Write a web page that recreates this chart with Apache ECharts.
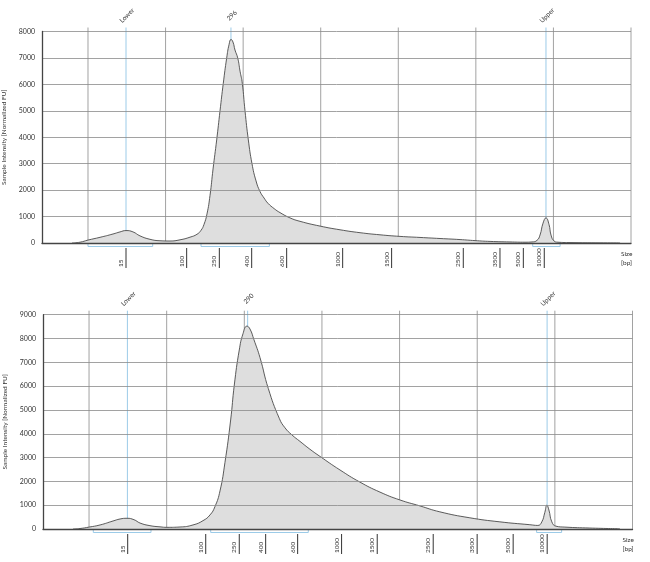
<!DOCTYPE html>
<html><head><meta charset="utf-8">
<script src="https://cdn.jsdelivr.net/npm/echarts@6/dist/echarts.min.js"></script>
<style>html,body{margin:0;padding:0;background:#fff}#c{width:650px;height:562px}</style>
</head><body><div id="c"></div>
<script>
// ---- Data (x = migration position units, y = normalized FU) ----
const topX = [7.94,8.97,10.00,11.55,13.22,14.13,14.90,15.80,16.70,17.99,19.28,20.57,21.86,23.15,24.05,24.57,24.95,25.34,25.73,26.12,26.59,27.02,27.44,27.88,28.18,28.44,28.69,28.95,29.30,29.60,29.89,30.24,30.67,31.14,31.66,32.17,32.70,33.21,34.00,34.75,36.04,37.33,39.91,42.49,45.07,47.64,50.22,52.80,55.38,57.96,59.89,61.83,64.40,66.34,67.24,67.88,68.27,68.66,69.04,69.43,69.69,70.07,70.59,72.14,76.01,78.59];
const topY = [0,30,110,215,340,420,470,420,270,140,85,75,120,220,330,480,700,1100,1800,2800,3900,5000,6040,7000,7500,7700,7600,7300,7000,6500,6040,5000,3900,3000,2350,1950,1700,1500,1300,1150,950,820,640,500,390,310,250,210,170,130,90,60,40,30,40,100,300,750,950,700,300,80,30,15,5,0];
const botX = [7.94,8.84,10.00,11.42,13.09,13.99,14.89,15.79,16.57,17.85,19.14,20.04,21.72,23.39,24.68,25.58,26.22,26.87,27.51,28.24,28.71,29.35,29.83,30.34,30.73,31.24,32.02,33.09,34.50,35.24,36.14,37.17,38.45,39.74,42.32,44.89,47.47,50.04,52.62,55.19,59.05,62.92,66.78,67.81,68.32,68.71,68.97,69.23,69.61,70.13,71.29,74.51,78.37];
const botY = [0,20,80,170,336,420,450,390,250,140,90,70,84,170,350,590,940,1600,2800,4578,6048,7518,8200,8520,8400,7950,7200,5900,4650,4250,3950,3680,3350,3050,2480,1970,1550,1220,970,720,470,300,180,150,300,700,1000,800,300,120,80,40,10];

const gridTimes = [10,20,30,40,50,60,70,80];
const xMin = 4.07, xMax = 80;

const topLadderPos = [14.90,22.72,26.93,31.10,35.61,42.83,49.14,58.38,63.11,66.12,68.82];
const botLadderPos = [14.98,25.03,29.35,32.75,36.87,42.53,47.12,54.33,59.99,64.63,69.01];
const ladderLabels = ['15','100','250','400','600','1000','1500','2500','3500','5000','10000'];

const topMarkerPos = [14.90,28.43,69.04];
const topMarkerLabels = ['Lower','296','Upper'];
const botMarkerPos = [14.94,30.43,69.00];
const botMarkerLabels = ['Lower','290','Upper'];

const topRegions = [[10.00,18.34],[24.57,33.38],[67.33,70.86]];
const botRegions = [[10.55,17.98],[25.67,38.24],[67.65,70.87]];

const topYMax = 8000, botYMax = 9000, yStep = 1000;

// ---- Styles ----
const FONT = 'Lato';
const TXT = '#333';
const GRIDC = '#8a8a8a';
const AXISC = '#444';
const BLUE = '#9ccbe8';

function xAxisFor(i){
  return {gridIndex:i,type:'value',min:xMin,max:xMax,z:10,
    axisLine:{show:true,lineStyle:{color:AXISC,width:1.3}},
    axisTick:{show:false},axisLabel:{show:false},splitLine:{show:false},
    name:'Size\n[bp]',nameLocation:'end',nameGap:-10,
    nameTextStyle:{fontFamily:FONT,fontSize:6.5,color:TXT,align:'left',verticalAlign:'top',lineHeight:9,padding:[6,0,0,0]}};
}
function yAxisFor(i,max){
  return {gridIndex:i,type:'value',min:0,max:max,interval:yStep,z:10,
    axisLine:{show:true,lineStyle:{color:AXISC,width:1.3}},
    axisTick:{show:false},
    axisLabel:{fontFamily:FONT,fontSize:7,color:TXT,margin:7,formatter:v=>String(v)},
    splitLine:{show:true,lineStyle:{color:GRIDC,width:0.8}},
    name:'Sample Intensity [Normalized FU]',nameLocation:'middle',nameGap:29,
    nameTextStyle:{fontFamily:FONT,fontSize:6.5,color:TXT}};
}

function panelSeries(i,xs,ys,yMax,ladderPos,markerPos,markerLabels,regions){
  const out = [];
  out.push({type:'custom',xAxisIndex:i,yAxisIndex:i,z:1,silent:true,clip:false,
    data:gridTimes.map(t=>[t,yMax]),
    renderItem:(p,api)=>{
      const a=api.coord([api.value(0),0]), b=api.coord([api.value(0),api.value(1)]);
      return {type:'line',shape:{x1:a[0],y1:a[1],x2:b[0],y2:b[1]-4},style:{stroke:GRIDC,lineWidth:0.8}};
    }});
  out.push({type:'custom',xAxisIndex:i,yAxisIndex:i,z:1,silent:true,clip:false,
    data:markerPos.map(x=>[x,yMax]),
    renderItem:(p,api)=>{
      const a=api.coord([api.value(0),0]), b=api.coord([api.value(0),api.value(1)]);
      return {type:'group',children:[
        {type:'line',shape:{x1:a[0],y1:a[1],x2:b[0],y2:b[1]-4},style:{stroke:BLUE,lineWidth:1}},
        {type:'text',x:b[0]+1,y:b[1]-16,rotation:Math.PI/4,
          style:{text:markerLabels[p.dataIndex],fontFamily:FONT,fontSize:6.5,fill:TXT,align:'center',verticalAlign:'middle'}}
      ]};
    }});
  out.push({type:'custom',xAxisIndex:i,yAxisIndex:i,z:1,silent:true,clip:false,
    data:regions.map(r=>[r[0],r[1]]),
    renderItem:(p,api)=>{
      const a=api.coord([api.value(0),0]), b=api.coord([api.value(1),0]);
      return {type:'polyline',shape:{points:[[a[0],a[1]],[a[0],a[1]+3.5],[b[0],b[1]+3.5],[b[0],b[1]]]},
        style:{stroke:BLUE,lineWidth:1,fill:null}};
    }});
  out.push({type:'custom',xAxisIndex:i,yAxisIndex:i,z:1,silent:true,clip:false,
    data:ladderPos.map(x=>[x,0]),
    renderItem:(p,api)=>{
      const a=api.coord([api.value(0),0]);
      return {type:'group',children:[
        {type:'line',shape:{x1:a[0],y1:a[1]+5,x2:a[0],y2:a[1]+25},style:{stroke:'#333',lineWidth:1}},
        {type:'text',x:a[0]-1.5,y:a[1]+24,rotation:Math.PI/2,
          style:{text:ladderLabels[p.dataIndex],fontFamily:FONT,fontSize:6.5,fill:TXT,align:'left',verticalAlign:'bottom'}}
      ]};
    }});
  out.push({type:'line',xAxisIndex:i,yAxisIndex:i,z:3,silent:true,
    data:xs.map((x,k)=>[x,ys[k]]),
    showSymbol:false,smooth:0.5,
    lineStyle:{color:'#4a4a4a',width:0.9},
    areaStyle:{color:'#dedede',opacity:1}});
  return out;
}

const chart = echarts.init(document.getElementById('c'),null,{renderer:'canvas'});
chart.setOption({
  animation:false,
  backgroundColor:'#fff',
  grid:[
    {left:42,top:31.5,width:589,height:211.5,containLabel:false,outerBoundsMode:'none'},
    {left:43,top:314.7,width:589.5,height:214.3,containLabel:false,outerBoundsMode:'none'}
  ],
  xAxis:[xAxisFor(0),xAxisFor(1)],
  yAxis:[yAxisFor(0,topYMax),yAxisFor(1,botYMax)],
  series:[].concat(
    panelSeries(0,topX,topY,topYMax,topLadderPos,topMarkerPos,topMarkerLabels,topRegions),
    panelSeries(1,botX,botY,botYMax,botLadderPos,botMarkerPos,botMarkerLabels,botRegions)
  )
});
</script></body></html>
